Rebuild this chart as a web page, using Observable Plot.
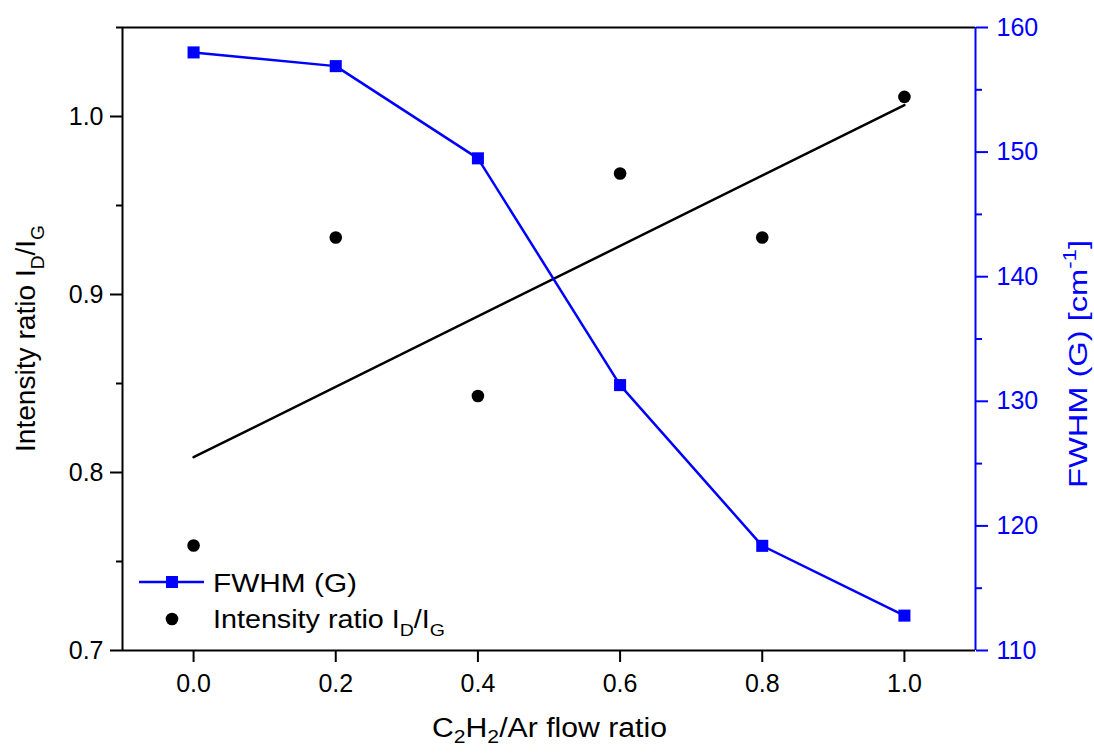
<!DOCTYPE html>
<html>
<head>
<meta charset="utf-8">
<script src="https://cdn.jsdelivr.net/npm/d3@7"></script>
<script src="https://cdn.jsdelivr.net/npm/@observablehq/plot@0.6"></script>
<style>
  html, body { margin: 0; padding: 0; background: white; }
  #chart svg { display: block; }
</style>
</head>
<body>
<div id="chart"></div>
<script>
// ---- Data ----
const flowRatio = [0.0, 0.2, 0.4, 0.6, 0.8, 1.0];
const fwhmG = [158.0, 156.9, 149.5, 131.3, 118.4, 112.8];
const intensityRatio = [0.759, 0.932, 0.843, 0.968, 0.932, 1.011];

const xTicks = [0.0, 0.2, 0.4, 0.6, 0.8, 1.0];
const leftTicks = [0.7, 0.8, 0.9, 1.0];
const leftMinorTicks = [0.75, 0.85, 0.95, 1.05];
const rightTicks = [110, 120, 130, 140, 150, 160];
const rightMinorTicks = [115, 125, 135, 145, 155];

const leftDomain = [0.7, 1.05];
const rightDomain = [110, 160];
const xDomain = [-0.1, 1.1];

// map right-axis values into the left scale
const toLeft = v => leftDomain[0] + (v - rightDomain[0]) * (leftDomain[1] - leftDomain[0]) / (rightDomain[1] - rightDomain[0]);
const fromLeft = v => rightDomain[0] + (v - leftDomain[0]) * (rightDomain[1] - rightDomain[0]) / (leftDomain[1] - leftDomain[0]);

const rows = flowRatio.map((x, i) => ({x, fwhm: fwhmG[i], ratio: intensityRatio[i]}));

const BLUE = "#0000ff";

const chart = Plot.plot({
  width: 1094,
  height: 753,
  marginLeft: 122,
  marginRight: 119,
  marginTop: 27,
  marginBottom: 103,
  x: {domain: xDomain},
  y: {domain: leftDomain},
  style: {fontFamily: "'Liberation Sans', Arial, sans-serif", fontSize: "25px", color: "black", background: "white"},
  marks: [
    Plot.axisX(xTicks, {tickSize: 12, tickPadding: 12, tickFormat: d3.format(".1f"), label: null, strokeWidth: 2}),
    Plot.axisY(leftTicks, {tickSize: 12, tickPadding: 7, tickFormat: d3.format(".1f"), label: null, strokeWidth: 2}),
    Plot.axisY(leftMinorTicks, {tickSize: 6, text: null, label: null, strokeWidth: 2}),
    Plot.axisY(rightTicks.map(toLeft), {anchor: "right", tickSize: 12, tickPadding: 9, tickFormat: d => String(Math.round(fromLeft(d))), label: null, color: BLUE, strokeWidth: 2}),
    Plot.axisY(rightMinorTicks.map(toLeft), {anchor: "right", tickSize: 6, text: null, label: null, color: BLUE, strokeWidth: 2}),
    Plot.ruleY([leftDomain[0], leftDomain[1]], {stroke: "black", strokeWidth: 2}),
    Plot.ruleX([xDomain[0]], {stroke: "black", strokeWidth: 2}),
    Plot.linearRegressionY(rows, {x: "x", y: "ratio", stroke: "black", strokeWidth: 2.5, ci: 0}),
    Plot.line(rows, {x: "x", y: d => toLeft(d.fwhm), stroke: BLUE, strokeWidth: 2.5}),
    Plot.dot(rows, {x: "x", y: d => toLeft(d.fwhm), symbol: "square", fill: BLUE, r: 6.8}),
    Plot.dot(rows, {x: "x", y: "ratio", fill: "black", r: 6.3}),
    Plot.ruleX([xDomain[1]], {stroke: BLUE, strokeWidth: 2})
  ]
});

document.getElementById("chart").appendChild(chart);

// ---- Titles and legend (text with sub/superscripts) ----
const svg = d3.select(chart);
const FONT = "'Liberation Sans', Arial, sans-serif";

function richText(g, parts, size, subScale, subShift) {
  let shift = 0;
  parts.forEach(([t, kind]) => {
    const target = kind === "sub" ? size * subShift : kind === "sup" ? -size * 0.42 : 0;
    g.append("tspan")
      .attr("dy", target - shift)
      .attr("font-size", kind ? size * subScale : size)
      .text(t);
    shift = target;
  });
}

// x title
const xt = svg.append("text")
  .attr("x", 432).attr("y", 737)
  .attr("text-anchor", "start")
  .attr("textLength", 235).attr("lengthAdjust", "spacingAndGlyphs")
  .attr("font-family", FONT).attr("fill", "black");
richText(xt, [["C", null], ["2", "sub"], ["H", null], ["2", "sub"], ["/Ar flow ratio", null]], 27, 0.7, 0.24);

// left y title
const yt = svg.append("text")
  .attr("transform", "translate(35,452) rotate(-90)")
  .attr("text-anchor", "start")
  .attr("textLength", 227).attr("lengthAdjust", "spacingAndGlyphs")
  .attr("font-family", FONT).attr("fill", "black");
richText(yt, [["Intensity ratio I", null], ["D", "sub"], ["/I", null], ["G", "sub"]], 27, 0.68, 0.32);

// right y title
const rt = svg.append("text")
  .attr("transform", "translate(1087,488) rotate(-90)")
  .attr("text-anchor", "start")
  .attr("textLength", 248).attr("lengthAdjust", "spacingAndGlyphs")
  .attr("font-family", FONT).attr("fill", BLUE);
richText(rt, [["FWHM (G) [cm", null], ["-1", "sup"], ["]", null]], 26, 0.68, 0.32);

// legend
const lg = svg.append("g").attr("font-family", FONT).attr("text-anchor", "start");
lg.append("line").attr("x1", 139).attr("x2", 204).attr("y1", 582).attr("y2", 582)
  .attr("stroke", BLUE).attr("stroke-width", 2.5);
lg.append("rect").attr("x", 166).attr("y", 576).attr("width", 12).attr("height", 12).attr("fill", BLUE);
lg.append("text").attr("x", 213).attr("y", 592).attr("font-size", 25).attr("fill", "black")
  .attr("textLength", 144).attr("lengthAdjust", "spacingAndGlyphs").text("FWHM (G)");
lg.append("circle").attr("cx", 172).attr("cy", 619).attr("r", 6.3).attr("fill", "black");
const lt = lg.append("text").attr("x", 213).attr("y", 628).attr("fill", "black")
  .attr("textLength", 232).attr("lengthAdjust", "spacingAndGlyphs");
richText(lt, [["Intensity ratio I", null], ["D", "sub"], ["/I", null], ["G", "sub"]], 25, 0.68, 0.32);
</script>
</body>
</html>
